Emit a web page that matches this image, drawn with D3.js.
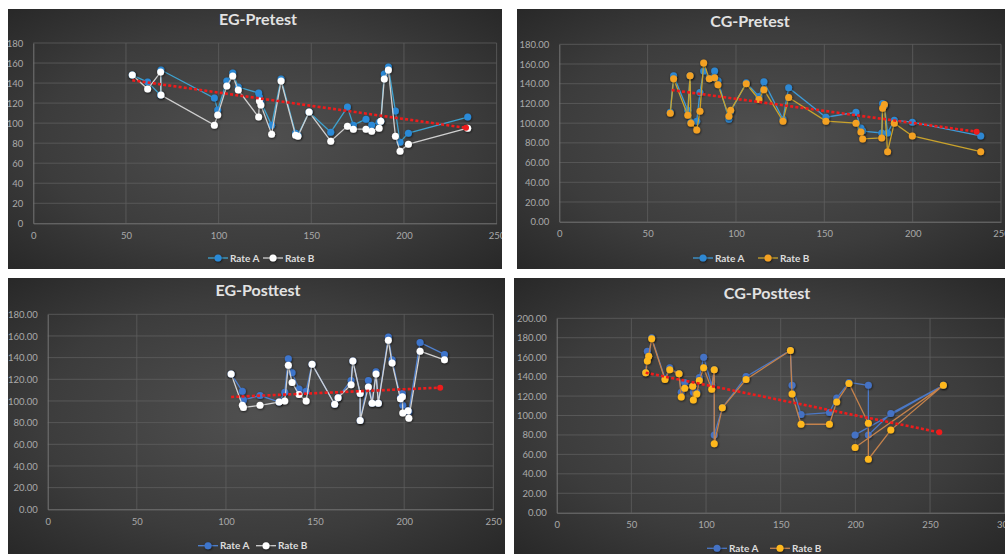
<!DOCTYPE html>
<html>
<head>
<meta charset="utf-8">
<script src="https://cdn.jsdelivr.net/npm/d3@7/dist/d3.min.js"></script>
<style>
  html, body { margin: 0; padding: 0; background: #ffffff; }
  svg { display: block; }
  text { font-family: Lato, "Open Sans", "Liberation Sans", sans-serif; }
</style>
</head>
<body>
<svg id="chart" width="1005" height="554"></svg>
<script>
// ---- EG-Pretest ----
const egPreX = [53.4, 61.7, 68.7, 68.9, 97.7, 99.5, 104.4, 107.6, 110.6, 121.6, 122.0, 122.8, 128.6, 133.7, 141.5, 142.8, 148.8, 160.5, 169.5, 172.7, 179.5, 182.6, 186.6, 187.5, 189.4, 191.6, 195.4, 197.9, 202.4, 234.4];
const egPreA = [148, 141, 128, 153, 125, 113, 142, 150, 136, 130, 126, 121, 98, 144, 90, 88, 111, 91, 116, 98, 104, 98, 101, 102, 149, 156, 112, 81, 90, 106];
const egPreB = [148, 134, 151, 128, 98, 108, 137, 147, 133, 106, 122, 118, 89, 142, 88, 87, 111, 82, 97, 94, 94, 92, 95, 102, 144, 153, 87, 72, 79, 95];
const egPreTrendX = [53.4, 233.5];
const egPreTrendY = [142.8, 95.3];

// ---- CG-Pretest ----
const cgPreX = [62.8, 64.7, 72.7, 74.0, 74.5, 77.8, 79.6, 81.7, 84.9, 87.9, 89.8, 96.0, 97.0, 105.8, 113.0, 115.8, 126.6, 129.8, 150.9, 167.9, 170.7, 171.7, 182.5, 183.0, 184.0, 185.8, 189.6, 199.8, 238.5];
const cgPreA = [111, 148, 113, 148, 101, 102, 131, 153, 145, 153, 143, 104, 112, 141, 127, 142, 104, 136, 106, 111, 95, 92, 90, 120, 118, 90, 103, 101, 87];
const cgPreB = [110, 145, 108, 148, 100, 93, 112, 161, 145, 146, 139, 107, 113, 140, 124, 134, 102, 126, 102, 100, 91, 84, 85, 115, 119, 71, 100, 87, 71];
const cgPreTrendX = [63.6, 236.2];
const cgPreTrendY = [133.6, 91.3];

// ---- EG-Posttest ----
const egPostX = [102.9, 109.2, 109.8, 119.1, 129.8, 133.0, 135.0, 137.1, 141.0, 145.0, 148.3, 161.0, 162.9, 170.2, 171.2, 175.3, 175.3, 179.9, 182.0, 184.2, 185.5, 191.1, 193.2, 197.9, 199.0, 199.2, 202.2, 202.6, 208.9, 222.6];
const egPostA = [125, 109, 101, 105, 99, 108, 139, 126, 111, 109, 134, 97, 103, 119, 137, 107, 82, 119, 98, 127, 98, 159, 138, 103, 107, 96, 91, 90, 154, 143];
const egPostB = [125, 96, 94, 96, 99, 100, 133, 117, 106, 100, 134, 97, 103, 115, 137, 107, 82, 113, 98, 125, 98, 156, 135, 102, 104, 89, 91, 84, 146, 138];
const egPostTrendX = [102.9, 220.2];
const egPostTrendY = [103.7, 112.3];

// ---- CG-Posttest ----
const cgPostX = [59.6, 60.7, 61.6, 63.6, 72.5, 75.7, 81.9, 83.4, 85.7, 91.1, 91.5, 93.8, 95.5, 98.4, 103.8, 105.5, 105.5, 110.9, 126.8, 156.5, 157.6, 163.6, 182.6, 187.5, 195.7, 208.7, 208.7, 223.7, 258.9, 199.8];
const cgPostA = [144, 166, 161, 180, 138, 149, 143, 124, 134, 130, 124, 124, 139, 160, 131, 147, 80, 108, 140, 167, 131, 101, 103, 118, 134, 131, 80, 102, 131, 80];
const cgPostB = [144, 156, 161, 179, 137, 147, 143, 119, 128, 130, 116, 122, 136, 149, 127, 147, 71, 108, 137, 167, 122, 91, 91, 114, 133, 92, 55, 85, 131, 67];
const cgPostTrendX = [59.6, 256.2];
const cgPostTrendY = [144, 82.7];

// ---- axis settings ----
const seriesNames = ["Rate A", "Rate B"];
const xTicksPre = [0, 50, 100, 150, 200, 250];
const xTicksCgPost = [0, 50, 100, 150, 200, 250, 300];
const yTicks180 = [0, 20, 40, 60, 80, 100, 120, 140, 160, 180];
const yTicks200 = [0, 20, 40, 60, 80, 100, 120, 140, 160, 180, 200];

const panels = [
  { title: "EG-Pretest", box: [8, 9, 494, 260], plot: [33.3, 43, 496.6, 223.3],
    xTicks: xTicksPre, yTicks: yTicks180, yFmt: d3.format("d"),
    xs: egPreX, a: egPreA, b: egPreB, tx: egPreTrendX, ty: egPreTrendY,
    titleX: 258, titleY: 24.5, legendY: 258, legendX: [208, 263],
    aLine: "#3ea2cf", aDot: "#2a8ad8", bLine: "#cfcfcf", bDot: "#ffffff" },
  { title: "CG-Pretest", box: [517, 9, 488, 260], plot: [559.3, 44.3, 1001, 221.7],
    xTicks: xTicksPre, yTicks: yTicks180, yFmt: d3.format(".2f"),
    xs: cgPreX, a: cgPreA, b: cgPreB, tx: cgPreTrendX, ty: cgPreTrendY,
    titleX: 750, titleY: 26.8, legendY: 258, legendX: [693, 758],
    aLine: "#3d9ad6", aDot: "#2f88d3", bLine: "#c9a22c", bDot: "#f4a124" },
  { title: "EG-Posttest", box: [8, 278, 497, 276], plot: [47.7, 314.3, 493.3, 509.3],
    xTicks: xTicksPre, yTicks: yTicks180, yFmt: d3.format(".2f"),
    xs: egPostX, a: egPostA, b: egPostB, tx: egPostTrendX, ty: egPostTrendY,
    titleX: 258, titleY: 295.8, legendY: 545.7, legendX: [198, 256],
    aLine: "#4f82d2", aDot: "#3e74cc", bLine: "#d2d2d2", bDot: "#ffffff" },
  { title: "CG-Posttest", box: [514, 278, 491, 276], plot: [556.7, 318.3, 1004.7, 512.7],
    xTicks: xTicksCgPost, yTicks: yTicks200, yFmt: d3.format(".2f"),
    xs: cgPostX, a: cgPostA, b: cgPostB, tx: cgPostTrendX, ty: cgPostTrendY,
    titleX: 767, titleY: 299, legendY: 548.3, legendX: [707, 770],
    aLine: "#4b78c6", aDot: "#4472c4", bLine: "#c4824c", bDot: "#ffb81e" }
];

const svg = d3.select("#chart");
const defs = svg.append("defs");

const grad = defs.append("radialGradient").attr("id", "panelBg")
  .attr("cx", "50%").attr("cy", "50%").attr("r", "72%");
grad.append("stop").attr("offset", "0%").attr("stop-color", "#505050");
grad.append("stop").attr("offset", "60%").attr("stop-color", "#3c3c3c");
grad.append("stop").attr("offset", "100%").attr("stop-color", "#272727");

const shadow = defs.append("filter").attr("id", "dotShadow")
  .attr("x", "-60%").attr("y", "-60%").attr("width", "220%").attr("height", "220%");
shadow.append("feDropShadow").attr("dx", 0.6).attr("dy", 0.8)
  .attr("stdDeviation", 0.9).attr("flood-color", "#000").attr("flood-opacity", 0.7);

panels.forEach((p, i) => {
  const [bx, by, bw, bh] = p.box;
  const [L, T, R, B] = p.plot;

  defs.append("clipPath").attr("id", "clip" + i)
    .append("rect").attr("x", bx).attr("y", by).attr("width", bw).attr("height", bh);

  const g = svg.append("g").attr("clip-path", `url(#clip${i})`);
  g.append("rect").attr("x", bx).attr("y", by).attr("width", bw).attr("height", bh)
    .attr("fill", "url(#panelBg)");

  const xMax = p.xTicks[p.xTicks.length - 1];
  const yMax = p.yTicks[p.yTicks.length - 1];
  const x = d3.scaleLinear().domain([0, xMax]).range([L, R]);
  const y = d3.scaleLinear().domain([0, yMax]).range([B, T]);

  // gridlines
  g.append("g").selectAll("line").data(p.yTicks.slice(1)).join("line")
    .attr("x1", L).attr("x2", R).attr("y1", d => y(d)).attr("y2", d => y(d))
    .attr("stroke", "#5e5e5e").attr("stroke-width", 0.8);
  g.append("g").selectAll("line").data(p.xTicks.slice(1)).join("line")
    .attr("x1", d => x(d)).attr("x2", d => x(d)).attr("y1", T).attr("y2", B)
    .attr("stroke", "#5e5e5e").attr("stroke-width", 0.8);

  // axes
  const yAxis = g.append("g").attr("transform", `translate(${L},0)`)
    .call(d3.axisLeft(y).tickValues(p.yTicks).tickSize(0).tickPadding(10).tickFormat(p.yFmt));
  const xAxis = g.append("g").attr("transform", `translate(0,${B})`)
    .call(d3.axisBottom(x).tickValues(p.xTicks).tickSize(0).tickPadding(9).tickFormat(d3.format("d")));
  [yAxis, xAxis].forEach(ax => {
    ax.select(".domain").attr("stroke", "#767676").attr("stroke-width", 1);
    ax.selectAll("text").attr("fill", "#a9a9a9").attr("font-size", "9.5px");
  });

  // series lines and markers
  const rows = p.xs.map((xv, k) => ({ x: xv, a: p.a[k], b: p.b[k] }));
  const lineA = d3.line().x(d => x(d.x)).y(d => y(d.a));
  const lineB = d3.line().x(d => x(d.x)).y(d => y(d.b));
  g.append("path").datum(rows).attr("d", lineA).attr("fill", "none")
    .attr("stroke", p.aLine).attr("stroke-width", 1.3);
  g.append("g").attr("filter", "url(#dotShadow)").selectAll("circle").data(rows).join("circle")
    .attr("cx", d => x(d.x)).attr("cy", d => y(d.a)).attr("r", 3.5).attr("fill", p.aDot);
  g.append("path").datum(rows).attr("d", lineB).attr("fill", "none")
    .attr("stroke", p.bLine).attr("stroke-width", 1.3);
  g.append("g").attr("filter", "url(#dotShadow)").selectAll("circle").data(rows).join("circle")
    .attr("cx", d => x(d.x)).attr("cy", d => y(d.b)).attr("r", 3.5).attr("fill", p.bDot);

  // linear trend
  const trend = p.tx.map((xv, k) => ({ x: xv, v: p.ty[k] }));
  g.append("path").datum(trend)
    .attr("d", d3.line().x(d => x(d.x)).y(d => y(d.v)))
    .attr("fill", "none").attr("stroke", "#ee1c1c").attr("stroke-width", 2.6)
    .attr("stroke-dasharray", "3,2.2");
  const end = trend[trend.length - 1];
  g.append("circle").attr("cx", x(end.x)).attr("cy", y(end.v)).attr("r", 3)
    .attr("fill", "#ee1c1c");

  // title
  g.append("text").attr("x", p.titleX).attr("y", p.titleY)
    .attr("text-anchor", "middle").attr("font-size", "16px").attr("font-weight", "700")
    .attr("fill", "#e2e2e2").text(p.title);

  // legend
  const legendColors = [[p.aLine, p.aDot], [p.bLine, p.bDot]];
  seriesNames.forEach((name, k) => {
    const lx = p.legendX[k];
    const lg = g.append("g");
    lg.append("line").attr("x1", lx).attr("x2", lx + 20).attr("y1", p.legendY).attr("y2", p.legendY)
      .attr("stroke", legendColors[k][0]).attr("stroke-width", 1.3);
    lg.append("circle").attr("cx", lx + 10).attr("cy", p.legendY).attr("r", 3.5)
      .attr("fill", legendColors[k][1]).attr("filter", "url(#dotShadow)");
    lg.append("text").attr("x", lx + 22).attr("y", p.legendY + 3.5)
      .attr("font-size", "10px").attr("font-weight", "700").attr("fill", "#dcdcdc").text(name);
  });
});
</script>
</body>
</html>
